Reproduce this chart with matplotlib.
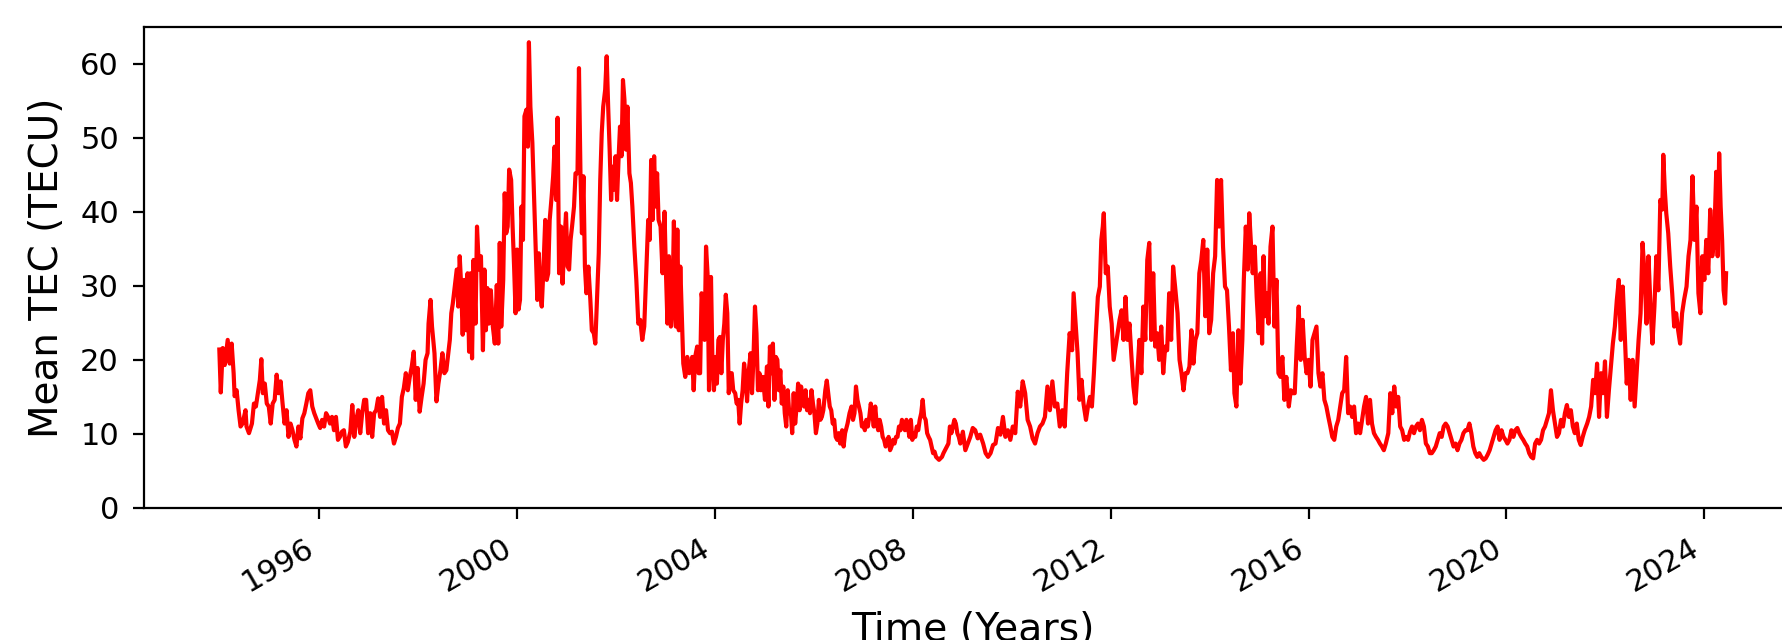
import matplotlib
matplotlib.use("Agg")
import matplotlib.pyplot as plt
import matplotlib.dates as mdates
import pandas as pd

# Daily mean TEC (decimal years / TECU)
# solar cycle 23 part: 1994 - end of 2008
YEARS_C23 = [
    1993.98, 1994.01, 1994.05, 1994.09, 1994.15, 1994.19, 1994.23, 1994.27, 1994.29, 1994.33,
    1994.37, 1994.41, 1994.45, 1994.51, 1994.53, 1994.58, 1994.64, 1994.68, 1994.72, 1994.76,
    1994.80, 1994.83, 1994.86, 1994.90, 1994.94, 1994.98, 1995.02, 1995.06, 1995.10, 1995.14,
    1995.18, 1995.22, 1995.26, 1995.30, 1995.34, 1995.38, 1995.42, 1995.46, 1995.50, 1995.54,
    1995.58, 1995.62, 1995.66, 1995.70, 1995.74, 1995.78, 1995.82, 1995.86, 1995.90, 1995.94,
    1995.98, 1996.02, 1996.06, 1996.10, 1996.14, 1996.18, 1996.22, 1996.26, 1996.30, 1996.34,
    1996.38, 1996.42, 1996.46, 1996.50, 1996.54, 1996.58, 1996.63, 1996.67, 1996.71, 1996.75,
    1996.79, 1996.83, 1996.87, 1996.91, 1996.95, 1996.99, 1997.03, 1997.07, 1997.11, 1997.15,
    1997.19, 1997.23, 1997.27, 1997.31, 1997.35, 1997.39, 1997.43, 1997.47, 1997.51, 1997.55,
    1997.59, 1997.63, 1997.67, 1997.71, 1997.75, 1997.79, 1997.83, 1997.87, 1997.91, 1997.95,
    1997.99, 1998.03, 1998.07, 1998.11, 1998.15, 1998.19, 1998.21, 1998.25, 1998.28, 1998.33,
    1998.37, 1998.41, 1998.45, 1998.49, 1998.53, 1998.57, 1998.60, 1998.64, 1998.67, 1998.70,
    1998.74, 1998.78, 1998.81, 1998.84, 1998.87, 1998.90, 1998.93, 1998.97, 1999.00, 1999.03,
    1999.06, 1999.09, 1999.12, 1999.16, 1999.19, 1999.23, 1999.27, 1999.31, 1999.34, 1999.37,
    1999.40, 1999.43, 1999.47, 1999.51, 1999.55, 1999.59, 1999.62, 1999.65, 1999.68, 1999.72,
    1999.75, 1999.78, 1999.81, 1999.84, 1999.88, 1999.91, 1999.94, 1999.97, 2000.00, 2000.03,
    2000.06, 2000.09, 2000.12, 2000.15, 2000.19, 2000.22, 2000.24, 2000.27, 2000.31, 2000.34,
    2000.37, 2000.41, 2000.44, 2000.47, 2000.50, 2000.53, 2000.57, 2000.60, 2000.63, 2000.66,
    2000.70, 2000.73, 2000.76, 2000.79, 2000.82, 2000.85, 2000.89, 2000.92, 2000.96, 2000.99,
    2001.02, 2001.05, 2001.08, 2001.11, 2001.15, 2001.18, 2001.22, 2001.25, 2001.28, 2001.31,
    2001.34, 2001.37, 2001.40, 2001.44, 2001.48, 2001.51, 2001.55, 2001.58, 2001.62, 2001.65,
    2001.68, 2001.71, 2001.74, 2001.78, 2001.81, 2001.84, 2001.87, 2001.90, 2001.93, 2001.96,
    2001.99, 2002.02, 2002.05, 2002.08, 2002.11, 2002.14, 2002.17, 2002.20, 2002.23, 2002.27,
    2002.30, 2002.33, 2002.37, 2002.41, 2002.45, 2002.49, 2002.53, 2002.57, 2002.61, 2002.65,
    2002.68, 2002.71, 2002.74, 2002.77, 2002.80, 2002.83, 2002.86, 2002.90, 2002.94, 2002.98,
    2003.01, 2003.04, 2003.07, 2003.11, 2003.14, 2003.17, 2003.21, 2003.24, 2003.27, 2003.30,
    2003.33, 2003.36, 2003.40, 2003.44, 2003.48, 2003.51, 2003.54, 2003.57, 2003.60, 2003.64,
    2003.67, 2003.70, 2003.73, 2003.76, 2003.79, 2003.82, 2003.85, 2003.88, 2003.92, 2003.95,
    2003.98, 2004.01, 2004.04, 2004.07, 2004.10, 2004.13, 2004.16, 2004.19, 2004.22, 2004.25,
    2004.28, 2004.31, 2004.34, 2004.37, 2004.41, 2004.44, 2004.47, 2004.50, 2004.53, 2004.56,
    2004.59, 2004.62, 2004.65, 2004.68, 2004.72, 2004.75, 2004.78, 2004.81, 2004.84, 2004.87,
    2004.90, 2004.93, 2004.97, 2005.01, 2005.05, 2005.08, 2005.11, 2005.14, 2005.17, 2005.20,
    2005.23, 2005.26, 2005.29, 2005.32, 2005.35, 2005.38, 2005.41, 2005.44, 2005.47, 2005.50,
    2005.53, 2005.56, 2005.59, 2005.62, 2005.65, 2005.68, 2005.71, 2005.74, 2005.77, 2005.80,
    2005.83, 2005.86, 2005.89, 2005.92, 2005.95, 2005.98, 2006.01, 2006.04, 2006.07, 2006.10,
    2006.13, 2006.16, 2006.19, 2006.23, 2006.26, 2006.29, 2006.32, 2006.35, 2006.38, 2006.41,
    2006.44, 2006.47, 2006.50, 2006.53, 2006.57, 2006.60, 2006.63, 2006.68, 2006.72, 2006.76,
    2006.79, 2006.82, 2006.85, 2006.88, 2006.91, 2006.94, 2006.97, 2007.00, 2007.03, 2007.06,
    2007.09, 2007.12, 2007.15, 2007.18, 2007.21, 2007.24, 2007.27, 2007.30, 2007.33, 2007.36,
    2007.39, 2007.42, 2007.45, 2007.48, 2007.51, 2007.54, 2007.57, 2007.60, 2007.63, 2007.66,
    2007.69, 2007.72, 2007.75, 2007.78, 2007.81, 2007.84, 2007.87, 2007.90, 2007.93, 2007.96,
    2007.99, 2008.02, 2008.05, 2008.08, 2008.11, 2008.14, 2008.17, 2008.20, 2008.23, 2008.26,
    2008.29, 2008.32, 2008.35, 2008.38, 2008.41, 2008.44, 2008.47, 2008.50, 2008.53, 2008.56,
    2008.59, 2008.62, 2008.65, 2008.69, 2008.72, 2008.75, 2008.78, 2008.81, 2008.84, 2008.87,
    2008.90, 2008.93, 2008.96,
]
TEC_C23 = [
    21.4, 15.6, 21.6, 19.3, 22.7, 19.5, 22.2, 18.2, 15.1, 15.9,
    13.2, 11.0, 11.4, 13.2, 11.0, 10.1, 11.4, 14.1, 13.7, 15.5,
    17.3, 20.1, 15.5, 16.8, 14.1, 13.7, 11.4, 14.1, 14.6, 18.0,
    15.5, 17.1, 14.1, 11.4, 13.2, 9.6, 11.4, 10.5, 9.2, 8.3,
    11.0, 9.4, 12.1, 12.8, 14.1, 15.5, 15.9, 13.7, 12.8, 12.1,
    11.4, 10.8, 11.9, 11.0, 12.8, 12.3, 11.4, 12.3, 10.5, 12.3,
    9.2, 9.6, 10.3, 10.5, 8.3, 8.9, 10.3, 13.9, 9.6, 11.9,
    13.2, 10.1, 12.8, 14.6, 14.6, 10.1, 12.8, 9.6, 12.8, 13.2,
    14.8, 12.3, 15.0, 11.4, 13.2, 10.5, 10.1, 10.3, 8.7, 9.6,
    10.8, 11.4, 15.0, 16.2, 18.2, 15.9, 17.7, 19.1, 21.1, 14.6,
    18.9, 13.0, 15.0, 16.8, 20.0, 20.9, 24.9, 28.1, 24.5, 20.9,
    14.4, 16.8, 18.6, 20.9, 18.2, 18.6, 20.4, 22.7, 26.3, 27.6,
    29.9, 32.2, 27.2, 34.0, 29.9, 23.4, 30.8, 24.0, 31.7, 21.1,
    31.7, 20.2, 33.5, 24.9, 38.0, 32.2, 34.0, 21.3, 32.2, 24.0,
    29.7, 24.9, 29.4, 24.5, 22.2, 30.1, 22.2, 35.8, 24.5, 30.8,
    42.5, 37.1, 38.0, 45.7, 44.3, 38.0, 32.6, 26.3, 34.9, 26.8,
    28.1, 40.7, 36.2, 52.9, 53.8, 48.8, 62.9, 54.2, 49.3, 43.0,
    37.1, 28.1, 34.4, 29.0, 27.2, 31.7, 38.9, 30.8, 31.7, 38.9,
    42.1, 44.8, 48.8, 41.6, 52.7, 31.7, 38.0, 30.3, 36.2, 39.8,
    32.6, 32.2, 36.2, 38.0, 40.7, 45.2, 45.2, 59.4, 45.2, 37.1,
    44.8, 32.6, 29.0, 32.6, 28.1, 24.0, 23.6, 22.2, 29.0, 34.4,
    44.3, 50.6, 54.2, 56.5, 61.0, 54.2, 48.4, 41.6, 46.1, 43.0,
    47.5, 41.6, 47.0, 51.5, 47.5, 57.8, 55.1, 48.4, 54.2, 45.2,
    43.9, 40.7, 35.3, 30.8, 24.9, 25.4, 22.7, 24.5, 31.7, 38.9,
    36.2, 47.0, 38.9, 47.5, 40.7, 45.2, 38.9, 38.0, 31.7, 40.0,
    31.7, 24.9, 34.0, 24.5, 27.2, 38.7, 24.5, 37.6, 24.0, 32.6,
    25.9, 19.5, 17.7, 20.4, 18.2, 18.6, 20.4, 15.9, 20.4, 21.8,
    18.2, 18.2, 29.0, 27.2, 22.7, 35.3, 31.7, 15.9, 31.2, 19.5,
    15.9, 20.4, 16.8, 22.7, 23.1, 18.2, 22.7, 24.9, 28.8, 26.3,
    15.5, 18.2, 18.2, 15.9, 15.5, 14.1, 14.6, 11.4, 14.1, 15.9,
    19.5, 17.7, 14.4, 18.2, 20.9, 15.5, 20.4, 27.2, 23.6, 15.9,
    18.2, 15.9, 17.7, 14.6, 19.1, 13.7, 21.8, 18.2, 22.2, 14.6,
    20.4, 20.0, 15.9, 18.6, 14.1, 16.4, 12.8, 11.0, 15.9, 12.8,
    13.2, 10.1, 15.5, 11.4, 13.7, 16.8, 13.2, 16.4, 14.6, 13.7,
    15.9, 13.2, 14.6, 12.8, 15.9, 14.1, 12.8, 10.1, 11.4, 14.6,
    11.9, 12.3, 13.2, 15.9, 17.2, 15.5, 13.7, 13.2, 11.4, 11.9,
    9.6, 9.2, 10.1, 8.7, 10.5, 8.3, 10.1, 11.4, 12.8, 13.7,
    11.9, 12.8, 16.4, 14.6, 13.7, 12.8, 11.0, 11.4, 10.5, 11.9,
    11.0, 12.3, 14.1, 12.8, 11.0, 13.7, 11.4, 10.5, 11.9, 11.0,
    9.6, 9.2, 8.3, 8.7, 9.6, 7.8, 8.3, 9.2, 8.7, 9.6,
    9.6, 11.0, 10.5, 11.9, 11.0, 10.5, 11.9, 11.0, 9.6, 11.9,
    9.2, 10.1, 9.6, 11.0, 10.5, 11.9, 12.8, 14.6, 12.3, 11.9,
    10.1, 9.6, 9.2, 8.3, 7.4, 7.6, 6.9, 6.7, 6.5, 6.7,
    6.9, 7.4, 7.8, 8.3, 8.7, 11.0, 10.1, 11.0, 11.9, 11.4,
    10.1, 9.6, 8.7,
]

# cycles 24 and 25: 2009 - mid 2024
YEARS_C24 = [
    2009.01, 2009.06, 2009.11, 2009.16, 2009.21, 2009.26, 2009.31, 2009.36, 2009.42, 2009.47,
    2009.52, 2009.57, 2009.62, 2009.67, 2009.72, 2009.77, 2009.82, 2009.87, 2009.92, 2009.97,
    2010.02, 2010.07, 2010.12, 2010.17, 2010.22, 2010.27, 2010.32, 2010.37, 2010.42, 2010.47,
    2010.52, 2010.57, 2010.62, 2010.67, 2010.72, 2010.77, 2010.82, 2010.87, 2010.92, 2010.97,
    2011.02, 2011.07, 2011.12, 2011.17, 2011.22, 2011.25, 2011.29, 2011.33, 2011.37, 2011.41,
    2011.45, 2011.50, 2011.54, 2011.58, 2011.62, 2011.66, 2011.70, 2011.74, 2011.78, 2011.81,
    2011.84, 2011.86, 2011.90, 2011.94, 2011.98, 2012.02, 2012.06, 2012.10, 2012.14, 2012.18,
    2012.22, 2012.26, 2012.30, 2012.34, 2012.38, 2012.42, 2012.46, 2012.50, 2012.54, 2012.58,
    2012.62, 2012.66, 2012.70, 2012.74, 2012.78, 2012.82, 2012.86, 2012.90, 2012.94, 2012.98,
    2013.02, 2013.06, 2013.10, 2013.14, 2013.18, 2013.22, 2013.26, 2013.30, 2013.35, 2013.39,
    2013.43, 2013.47, 2013.51, 2013.55, 2013.59, 2013.63, 2013.67, 2013.71, 2013.75, 2013.79,
    2013.83, 2013.87, 2013.91, 2013.95, 2013.99, 2014.03, 2014.07, 2014.11, 2014.15, 2014.19,
    2014.23, 2014.27, 2014.31, 2014.35, 2014.39, 2014.43, 2014.47, 2014.50, 2014.54, 2014.58,
    2014.62, 2014.66, 2014.69, 2014.73, 2014.77, 2014.80, 2014.83, 2014.87, 2014.91, 2014.95,
    2014.99, 2015.03, 2015.06, 2015.09, 2015.12, 2015.15, 2015.19, 2015.23, 2015.27, 2015.31,
    2015.35, 2015.39, 2015.43, 2015.47, 2015.51, 2015.55, 2015.60, 2015.64, 2015.68, 2015.72,
    2015.76, 2015.80, 2015.84, 2015.88, 2015.92, 2015.96, 2016.00, 2016.04, 2016.08, 2016.12,
    2016.16, 2016.20, 2016.24, 2016.28, 2016.32, 2016.36, 2016.40, 2016.44, 2016.48, 2016.52,
    2016.56, 2016.60, 2016.64, 2016.68, 2016.72, 2016.76, 2016.80, 2016.84, 2016.88, 2016.92,
    2016.96, 2017.00, 2017.04, 2017.08, 2017.12, 2017.16, 2017.20, 2017.24, 2017.28, 2017.32,
    2017.36, 2017.40, 2017.44, 2017.48, 2017.52, 2017.56, 2017.61, 2017.65, 2017.69, 2017.73,
    2017.77, 2017.81, 2017.85, 2017.89, 2017.93, 2017.97, 2018.01, 2018.05, 2018.09, 2018.13,
    2018.17, 2018.21, 2018.25, 2018.29, 2018.33, 2018.37, 2018.41, 2018.45, 2018.49, 2018.53,
    2018.57, 2018.61, 2018.65, 2018.69, 2018.73, 2018.77, 2018.81, 2018.85, 2018.89, 2018.93,
    2018.97, 2019.01, 2019.05, 2019.09, 2019.13, 2019.17, 2019.21, 2019.25, 2019.29, 2019.33,
    2019.37, 2019.41, 2019.45, 2019.49, 2019.54, 2019.58, 2019.62, 2019.66, 2019.70, 2019.74,
    2019.78, 2019.82, 2019.86, 2019.90, 2019.94, 2019.98, 2020.02, 2020.06, 2020.10, 2020.14,
    2020.18, 2020.22, 2020.26, 2020.30, 2020.34, 2020.38, 2020.42, 2020.46, 2020.50, 2020.54,
    2020.58, 2020.62, 2020.66, 2020.70, 2020.74, 2020.78, 2020.82, 2020.86, 2020.90, 2020.94,
    2020.98, 2021.02, 2021.06, 2021.10, 2021.14, 2021.18, 2021.22, 2021.26, 2021.30, 2021.34,
    2021.38, 2021.42, 2021.46, 2021.50, 2021.54, 2021.58, 2021.63, 2021.67, 2021.71, 2021.75,
    2021.79, 2021.83, 2021.87, 2021.91, 2021.95, 2021.99, 2022.03, 2022.07, 2022.11, 2022.15,
    2022.19, 2022.23, 2022.27, 2022.31, 2022.35, 2022.39, 2022.43, 2022.47, 2022.51, 2022.55,
    2022.59, 2022.63, 2022.67, 2022.71, 2022.75, 2022.79, 2022.83, 2022.87, 2022.91, 2022.95,
    2022.99, 2023.03, 2023.07, 2023.11, 2023.15, 2023.17, 2023.20, 2023.23, 2023.27, 2023.31,
    2023.35, 2023.39, 2023.43, 2023.47, 2023.51, 2023.55, 2023.59, 2023.64, 2023.68, 2023.72,
    2023.76, 2023.80, 2023.84, 2023.88, 2023.92, 2023.96, 2024.00, 2024.04, 2024.08, 2024.12,
    2024.16, 2024.20, 2024.24, 2024.27, 2024.30, 2024.33, 2024.36, 2024.39, 2024.42, 2024.44,
]
TEC_C24 = [
    10.3, 7.8, 8.7, 9.6, 10.8, 10.5, 9.4, 9.9, 8.7, 7.4,
    6.9, 7.4, 8.5, 8.7, 10.8, 9.9, 12.3, 9.6, 10.5, 9.2,
    11.0, 10.1, 15.7, 13.7, 17.1, 15.5, 11.9, 11.0, 9.4, 8.7,
    10.1, 11.0, 11.4, 12.3, 16.4, 13.2, 17.1, 13.7, 14.1, 11.0,
    13.2, 11.0, 18.2, 23.6, 21.3, 29.0, 24.9, 20.9, 14.6, 17.3,
    14.1, 11.9, 13.7, 15.0, 13.7, 18.2, 23.6, 28.5, 29.9, 36.2,
    38.0, 39.8, 31.7, 32.6, 27.2, 24.9, 20.0, 21.8, 23.6, 25.4,
    26.7, 22.7, 28.5, 22.7, 24.9, 20.4, 16.4, 14.1, 18.2, 22.7,
    18.2, 27.2, 22.7, 33.5, 35.8, 22.7, 31.7, 21.8, 23.6, 20.0,
    24.5, 18.2, 21.8, 21.3, 29.0, 22.7, 32.6, 29.9, 26.3, 20.0,
    18.2, 15.9, 18.2, 18.2, 19.1, 24.0, 19.5, 22.7, 23.6, 31.7,
    33.5, 36.2, 25.9, 34.9, 23.6, 25.4, 31.7, 34.0, 44.3, 38.0,
    44.3, 35.3, 29.9, 29.4, 24.5, 18.6, 23.6, 15.5, 13.7, 24.0,
    16.8, 22.7, 30.8, 38.0, 32.2, 39.8, 36.2, 31.7, 35.3, 28.5,
    23.6, 31.7, 22.2, 34.0, 25.9, 29.0, 24.9, 35.3, 38.0, 24.5,
    30.8, 18.2, 17.7, 20.4, 14.6, 17.7, 13.7, 15.9, 15.5, 15.5,
    21.8, 27.2, 20.0, 25.4, 20.4, 18.2, 20.0, 16.4, 22.7, 23.6,
    24.5, 18.2, 16.4, 18.2, 14.6, 13.7, 12.3, 11.0, 9.6, 9.2,
    11.0, 11.9, 13.7, 15.5, 15.9, 20.4, 12.8, 13.7, 12.3, 13.7,
    10.1, 11.4, 10.1, 11.9, 13.7, 15.0, 11.4, 14.6, 11.4, 10.1,
    9.6, 9.2, 8.7, 8.3, 7.8, 8.7, 10.1, 15.5, 12.8, 16.4,
    13.7, 15.0, 11.0, 10.5, 9.2, 9.6, 9.2, 10.3, 11.0, 10.1,
    11.0, 11.4, 10.5, 11.9, 11.0, 8.7, 8.3, 7.4, 7.4, 7.8,
    8.3, 9.2, 10.1, 9.6, 11.0, 11.4, 11.0, 10.1, 9.2, 8.3,
    8.7, 7.8, 8.7, 9.2, 10.1, 10.5, 10.5, 11.4, 10.1, 8.3,
    7.4, 6.9, 7.4, 6.9, 6.5, 6.7, 7.2, 7.8, 8.7, 9.6,
    10.5, 11.0, 9.2, 10.5, 9.6, 9.2, 8.7, 9.2, 10.5, 9.6,
    10.5, 10.8, 10.1, 9.6, 9.2, 8.7, 8.3, 7.4, 6.9, 6.7,
    8.7, 9.2, 8.7, 9.2, 10.5, 11.0, 11.9, 12.8, 15.9, 13.2,
    11.4, 9.6, 10.1, 11.9, 11.0, 12.8, 13.9, 12.3, 13.2, 11.0,
    10.1, 11.4, 9.2, 8.5, 9.6, 10.5, 11.4, 12.3, 13.7, 17.3,
    15.5, 19.5, 12.3, 18.2, 15.5, 19.8, 12.3, 15.9, 19.1, 22.2,
    24.5, 28.1, 30.8, 22.7, 29.9, 23.6, 16.8, 20.0, 14.6, 20.0,
    13.7, 18.2, 22.7, 26.3, 35.8, 31.7, 24.9, 34.0, 27.2, 22.2,
    27.2, 34.0, 29.4, 41.6, 40.3, 47.7, 43.0, 39.8, 37.1, 32.6,
    29.0, 24.5, 26.3, 24.0, 22.2, 26.3, 28.1, 29.9, 34.0, 36.2,
    44.8, 36.2, 40.7, 29.0, 26.3, 34.0, 30.8, 36.2, 31.7, 40.3,
    34.0, 36.2, 45.4, 34.0, 47.9, 40.7, 36.2, 29.4, 27.6, 31.7,
]

YEAR_TICK_STEP = 4
X_LABEL = "Time (Years)"
Y_LABEL = "Mean TEC (TECU)"

assert len(YEARS_C23) == len(TEC_C23)
assert len(YEARS_C24) == len(TEC_C24)


def decimal_year_to_date(y):
    yr = int(y)
    return pd.Timestamp(yr, 1, 1) + pd.Timedelta(days=(y - yr) * 365.25)


dates = [decimal_year_to_date(y) for y in YEARS_C23 + YEARS_C24]
tec = TEC_C23 + TEC_C24

fig = plt.figure(figsize=(8.91, 3.2), dpi=200)
# axes run a bit past the right edge, like the cropped original
ax = fig.add_axes([0.0808, 0.2063, 0.9301, 0.752])
ax.plot(dates, tec, color="red", linewidth=1.5)

ax.set_ylim(0, 65)
ax.set_yticks(range(0, 61, 10))
ax.xaxis.set_major_locator(mdates.YearLocator(YEAR_TICK_STEP))
ax.xaxis.set_major_formatter(mdates.DateFormatter("%Y"))
plt.setp(ax.get_xticklabels(), rotation=30, ha="right")
ax.tick_params(length=4, labelsize=11, pad=5)

ax.set_xlabel(X_LABEL, fontsize=14.2, labelpad=5)
ax.set_ylabel(Y_LABEL, fontsize=14, labelpad=5)

fig.savefig("out.png", dpi=200)
